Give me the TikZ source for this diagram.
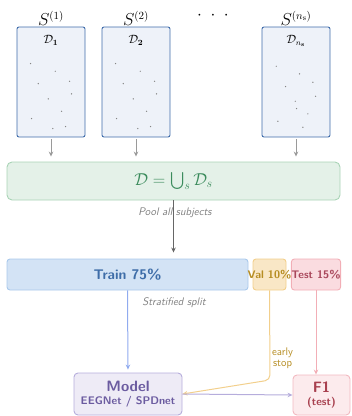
\documentclass[tikz,border=0pt]{standalone}
\usepackage{amsmath,amssymb}
\usetikzlibrary{arrows.meta,positioning}
\definecolor{subjEdge}{HTML}{3F6CAA}
\definecolor{subjFill}{HTML}{EEF2F9}
\definecolor{poolEdge}{HTML}{A9D4B6}
\definecolor{poolFill}{HTML}{E4F1E8}
\definecolor{poolText}{HTML}{3B8B5C}
\definecolor{trainEdge}{HTML}{A9C9EC}
\definecolor{trainFill}{HTML}{D3E3F5}
\definecolor{trainText}{HTML}{3E6DA8}
\definecolor{valEdge}{HTML}{F2CF8C}
\definecolor{valFill}{HTML}{F9E7C6}
\definecolor{valText}{HTML}{B68D23}
\definecolor{testEdge}{HTML}{F2AEB6}
\definecolor{testFill}{HTML}{FADCE0}
\definecolor{testText}{HTML}{A8465A}
\definecolor{modelEdge}{HTML}{B6ADDC}
\definecolor{modelFill}{HTML}{EEEBF6}
\definecolor{modelText}{HTML}{6B5BA0}
\definecolor{fEdge}{HTML}{F2B9C0}
\definecolor{fFill}{HTML}{FCEBED}
\definecolor{fText}{HTML}{A8404F}
\definecolor{neutral}{HTML}{666666}
\definecolor{lightgray}{HTML}{9A9A9A}
\definecolor{notegray}{HTML}{808080}
\tikzset{
  subjbox/.style={draw=subjEdge, fill=subjFill, rounded corners=2pt, line width=0.9pt,
    minimum width=68pt, minimum height=110pt, inner sep=0pt},
  subjlabel/.style={font=\fontsize{16}{18}\selectfont, inner sep=1pt},
  setlabel/.style={font=\fontsize{11.5}{13}\selectfont, inner sep=0pt},
  sample/.style={fill=neutral!80},
  splitbox/.style={rounded corners=3pt, line width=0.9pt, inner sep=0pt,
    minimum height=31pt, font=\sffamily\bfseries\fontsize{11}{13}\selectfont},
  resbox/.style={rounded corners=4pt, line width=0.9pt, inner sep=0pt, align=center},
  note/.style={font=\sffamily\itshape\fontsize{11}{13}\selectfont, text=notegray, inner sep=1pt},
  arr/.style={-{Stealth[length=5pt,width=4.5pt]}, line width=1pt},
  grayarr/.style={arr, draw=lightgray, shorten <=2pt, shorten >=5pt},
  poolarr/.style={arr, draw=neutral, line width=1.1pt, shorten >=6pt}
}

\begin{document}
\begin{tikzpicture}[x=1pt, y=-1pt]
  \useasboundingbox (0,0) rectangle (352,416);

  % subjects
  \node[subjbox] (s1) at (51,82) {};
  \node[subjbox] (s2) at (136,82) {};
  \node[subjbox] (sn) at (296,82) {};
  \node[setlabel, below=9pt of s1.north] (d1) {$\mathcal{D}_{\mathbf{1}}$};
  \node[setlabel, below=9pt of s2.north] (d2) {$\mathcal{D}_{\mathbf{2}}$};
  \node[setlabel, below=9pt of sn.north] (dn) {$\mathcal{D}_{n_{\mathbf{s}}}$};
  \node[subjlabel, above=0pt of s1] (lab1) {$S^{(1)}$};
  \node[subjlabel, above=0pt of s2] (lab2) {$S^{(2)}$};
  \node[subjlabel, above=0pt of sn] (labn) {$S^{(n_{\mathrm{s}})}$};
  \node[subjlabel] (dots) at (213,16) {$\cdot\;\cdot\;\cdot$};

  \foreach \b in {s1,s2}
    \foreach \dx/\dy in {14/37,38.7/44.7,21.7/57,53/54.7,55/67.3,31.7/72.3,45/84.7,15/92,36.3/102,49/100}
      \fill[sample] ([shift={(\dx,\dy)}]\b.north west) circle (0.7pt);
  \foreach \dx/\dy in {14.7/39.7,38/47.3,24/60,51.3/55.7,54/69.7,33.7/74.7,35/82,46.3/87.3,16.3/94.7,41.3/100.7}
    \fill[sample] ([shift={(\dx,\dy)}]sn.north west) circle (0.7pt);

  % pooled set
  \node[draw=poolEdge, fill=poolFill, rounded corners=5pt, line width=0.9pt,
    minimum width=333pt, minimum height=38pt, text=poolText,
    font=\fontsize{17}{19}\selectfont] (pool) at (173.5,181)
    {$\mathcal{D}=\textstyle\bigcup_s\mathcal{D}_s$};
  \foreach \b in {s1,s2,sn}
    \draw[grayarr] (\b.south) -- (\b.south |- pool.north);
  \node[note] (poolnote) at (175,213) {Pool all subjects};

  % split
  \node[splitbox, draw=trainEdge, fill=trainFill, text=trainText, minimum width=241pt,
    font=\sffamily\bfseries\fontsize{14}{16}\selectfont] (train) at (127.5,274.5) {Train 75\%};
  \node[splitbox, draw=valEdge, fill=valFill, text=valText, minimum width=33pt] (val) at (269.5,274.5) {};
  \node[splitbox, draw=testEdge, fill=testFill, text=testText, minimum width=48pt] (test) at (316,274.5) {Test 15\%};
  \node[splitbox, text=valText] (valtext) at (val.center) {Val 10\%};
  \draw[poolarr] (pool.south) -- (pool.south |- train.north);
  \node[note] (splitnote) at (174,303) {Stratified split};

  % model and score
  \node[resbox, draw=modelEdge, fill=modelFill, text=modelText,
    minimum width=108pt, minimum height=42pt] (model) at (128,394)
    {{\sffamily\bfseries\fontsize{15}{16}\selectfont Model}\\[1pt]
     {\sffamily\bfseries\fontsize{11}{13}\selectfont EEGNet / SPDnet}};
  \node[resbox, draw=fEdge, fill=fFill, text=fText,
    minimum width=57pt, minimum height=40pt] (f1) at (321.5,395)
    {{\sffamily\bfseries\fontsize{15}{16}\selectfont F1}\\[1pt]
     {\sffamily\bfseries\fontsize{11}{13}\selectfont (test)}};

  \coordinate (bend) at (270,380);
  \draw[arr, draw=trainEdge!85!blue, shorten >=3pt] (train.south) -- (model.north);
  \draw[arr, draw=valEdge, rounded corners=5pt] (val.south) -- (bend) -- (model.east);
  \node[font=\sffamily\fontsize{11}{11}\selectfont, text=valText, align=center,
    anchor=west, inner sep=0pt] (stopnote) at (272,358) {early\\stop};
  \draw[arr, draw=testEdge] (test.south) -- (test.south |- f1.north);
  \draw[arr, draw=modelEdge] (model.east) -- (f1.west);
\end{tikzpicture}
\end{document}
